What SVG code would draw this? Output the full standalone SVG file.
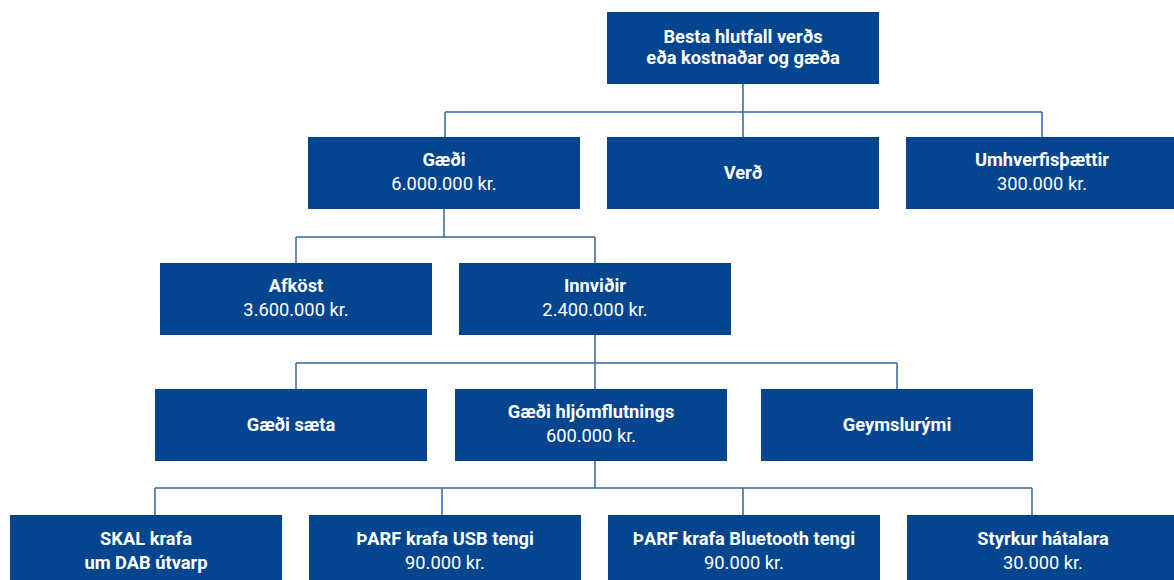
<svg xmlns="http://www.w3.org/2000/svg" width="1174" height="580" viewBox="0 0 1174 580">
<style>
.box{fill:#03458f}
.t1{font-family:Roboto,"Noto Sans",sans-serif;font-weight:700;font-size:18.3px;fill:#ffffff;text-anchor:middle}
.t2{font-family:Roboto,"Noto Sans",sans-serif;font-weight:400;font-size:18.3px;fill:#ffffff;text-anchor:middle}
.ln{stroke:#3466a2;stroke-width:1.5;fill:none}
</style>
<rect width="1174" height="580" fill="#ffffff"/>
<g id="connectors">
<path class="ln" d="M743 84V138M445 112H1042M445 112V137M1042 112V137"/>
<path class="ln" d="M444 209V237M296 237H595M296 237V263M595 237V263"/>
<path class="ln" d="M595 335V363M296 363H897M296 363V389M595 363V389M897 363V389"/>
<path class="ln" d="M595 461V488M155 488H1032M155 488V515M442 488V515M743 488V515M1032 488V515"/>
</g>
<g id="root"><rect class="box" x="607" y="12" width="272" height="72"/><text class="t1" x="743" y="43">Besta hlutfall verðs</text><text class="t1" x="743" y="64">eða kostnaðar og gæða</text></g>
<g id="gaedi"><rect class="box" x="308" y="137" width="272" height="72"/><text class="t1" x="444" y="166">Gæði</text><text class="t2" x="444" y="190">6.000.000 kr.</text></g>
<g id="verd"><rect class="box" x="607" y="137" width="272" height="72"/><text class="t1" x="743" y="179">Verð</text></g>
<g id="umhverfis"><rect class="box" x="906" y="137" width="272" height="72"/><text class="t1" x="1042" y="166">Umhverfisþættir</text><text class="t2" x="1042" y="190">300.000 kr.</text></g>
<g id="afkost"><rect class="box" x="160" y="263" width="272" height="72"/><text class="t1" x="296" y="292">Afköst</text><text class="t2" x="296" y="316">3.600.000 kr.</text></g>
<g id="innvidir"><rect class="box" x="459" y="263" width="272" height="72"/><text class="t1" x="595" y="292">Innviðir</text><text class="t2" x="595" y="316">2.400.000 kr.</text></g>
<g id="saeti"><rect class="box" x="155" y="389" width="272" height="72"/><text class="t1" x="291" y="431">Gæði sæta</text></g>
<g id="hljom"><rect class="box" x="455" y="389" width="272" height="72"/><text class="t1" x="591" y="418">Gæði hljómflutnings</text><text class="t2" x="591" y="442">600.000 kr.</text></g>
<g id="geymsla"><rect class="box" x="761" y="389" width="272" height="72"/><text class="t1" x="897" y="431">Geymslurými</text></g>
<g id="skal"><rect class="box" x="10" y="515" width="272" height="72"/><text class="t1" x="146" y="545">SKAL krafa</text><text class="t1" x="146" y="569">um DAB útvarp</text></g>
<g id="usb"><rect class="box" x="309" y="515" width="272" height="72"/><text class="t1" x="445" y="545">ÞARF krafa USB tengi</text><text class="t2" x="445" y="569">90.000 kr.</text></g>
<g id="bluetooth"><rect class="box" x="608" y="515" width="272" height="72"/><text class="t1" x="744" y="545">ÞARF krafa Bluetooth tengi</text><text class="t2" x="744" y="569">90.000 kr.</text></g>
<g id="styrkur"><rect class="box" x="907" y="515" width="272" height="72"/><text class="t1" x="1043" y="545">Styrkur hátalara</text><text class="t2" x="1043" y="569">30.000 kr.</text></g>
</svg>
